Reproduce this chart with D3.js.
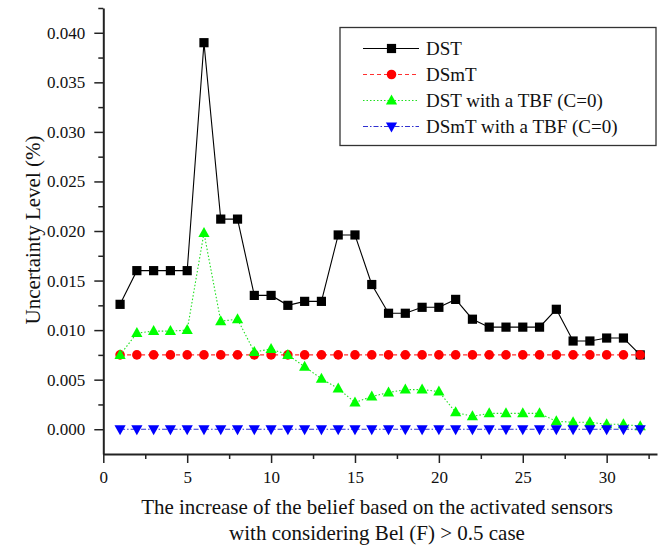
<!DOCTYPE html>
<html>
<head>
<meta charset="utf-8">
<script src="https://cdn.jsdelivr.net/npm/d3@7"></script>
<style>
  html, body { margin: 0; padding: 0; background: #fff; }
  svg { display: block; }
  svg text { font-family: "Liberation Serif", "Times New Roman", "Liberation Sans", serif; }
</style>
</head>
<body>
<svg id="chart" width="665" height="546"></svg>
<script>
// Activated-sensor steps on the x axis
const steps = d3.range(1, 33);

// Uncertainty level of each combination rule, one value per step
const dst = [0.0126, 0.0160, 0.0160, 0.0160, 0.0160, 0.0390, 0.0212, 0.0212,
             0.0135, 0.0135, 0.0125, 0.0129, 0.0129, 0.0196, 0.0196, 0.0146,
             0.0117, 0.0117, 0.0123, 0.0123, 0.0131, 0.0111, 0.0103, 0.0103,
             0.0103, 0.0103, 0.0121, 0.0089, 0.0089, 0.0092, 0.0092, 0.0075];
const dsmt = [0.0075, 0.0075, 0.0075, 0.0075, 0.0075, 0.0075, 0.0075, 0.0075,
              0.0075, 0.0075, 0.0075, 0.0075, 0.0075, 0.0075, 0.0075, 0.0075,
              0.0075, 0.0075, 0.0075, 0.0075, 0.0075, 0.0075, 0.0075, 0.0075,
              0.0075, 0.0075, 0.0075, 0.0075, 0.0075, 0.0075, 0.0075, 0.0075];
const dstTbf = [0.0075, 0.0097, 0.0099, 0.0099, 0.0100, 0.0198, 0.0109, 0.0111,
                0.0078, 0.0081, 0.0075, 0.0063, 0.0051, 0.0041, 0.0027, 0.0033,
                0.0037, 0.0040, 0.0040, 0.0038, 0.0017, 0.0013, 0.0016, 0.0016,
                0.0016, 0.0016, 0.0008, 0.0007, 0.0007, 0.0005, 0.0005, 0.0003];
const dsmtTbf = [0, 0, 0, 0, 0, 0, 0, 0, 0, 0, 0, 0, 0, 0, 0, 0,
                 0, 0, 0, 0, 0, 0, 0, 0, 0, 0, 0, 0, 0, 0, 0, 0];

// Tick labels
const xTicks = [0, 5, 10, 15, 20, 25, 30];
const yTicks = [0.000, 0.005, 0.010, 0.015, 0.020, 0.025, 0.030, 0.035, 0.040];

const seriesNames = ["DST", "DSmT", "DST with a TBF (C=0)", "DSmT with a TBF (C=0)"];

const series = [
  { name: seriesNames[0], values: dst,     color: "#000000", lineColor: "#000000", dash: null,        marker: "square" },
  { name: seriesNames[1], values: dsmt,    color: "#ff0000", lineColor: "#ff3030", dash: "4,3",       marker: "circle" },
  { name: seriesNames[2], values: dstTbf,  color: "#00ff00", lineColor: "#20e020", dash: "1.5,2",     marker: "up" },
  { name: seriesNames[3], values: dsmtTbf, color: "#0000ff", lineColor: "#3030d0", dash: "5,2,1.5,2", marker: "down" }
];

const svg = d3.select("#chart");

const x = d3.scaleLinear().domain([0, 33]).range([103.3, 657]);
const y = d3.scaleLinear().domain([-0.0025, 0.0425]).range([454, 8]);

// Marker shapes
function markerPath(type) {
  switch (type) {
    case "square": return "M-4.6,-4.6H4.6V4.6H-4.6Z";
    case "circle": return d3.symbol(d3.symbolCircle, 72)();
    case "up":     return "M0,-6L5.6,4L-5.6,4Z";
    case "down":   return "M0,6L5.6,-4L-5.6,-4Z";
  }
}

// Minor ticks
const xMinor = d3.range(2.5, 33, 5);
const yMinor = d3.range(0.0025, 0.0426, 0.005);

const gx = svg.append("g").attr("transform", "translate(0,454)");
gx.call(d3.axisBottom(x).tickValues(xMinor).tickSize(5).tickSizeOuter(0).tickFormat(""));
gx.call(g => g.select(".domain").remove());
const gx2 = svg.append("g").attr("transform", "translate(0,454)");
gx2.call(d3.axisBottom(x).tickValues(xTicks).tickSize(9).tickSizeOuter(0).tickPadding(8));

const gy = svg.append("g").attr("transform", "translate(103.3,0)");
gy.call(d3.axisLeft(y).tickValues(yMinor).tickSize(5).tickSizeOuter(0).tickFormat(""));
gy.call(g => g.select(".domain").remove());
const gy2 = svg.append("g").attr("transform", "translate(103.3,0)");
gy2.call(d3.axisLeft(y).tickValues(yTicks).tickSize(9).tickSizeOuter(0).tickPadding(9)
  .tickFormat(d3.format(".3f")));

svg.selectAll("g").attr("font-family", null);
svg.selectAll(".domain").attr("stroke", "#222").attr("stroke-width", 2);
svg.selectAll(".tick line").attr("stroke", "#222").attr("stroke-width", 1.5);
svg.selectAll(".tick text")
  .attr("font-size", 17)
  .attr("fill", "#111");

// Series lines and markers
const line = d3.line().x((d, i) => x(steps[i])).y(d => y(d));

series.forEach(s => {
  svg.append("path")
    .datum(s.values)
    .attr("fill", "none")
    .attr("stroke", s.lineColor)
    .attr("stroke-width", 1.1)
    .attr("stroke-dasharray", s.dash)
    .attr("d", line);
  svg.append("g").selectAll("path")
    .data(s.values)
    .join("path")
    .attr("transform", (d, i) => `translate(${x(steps[i])},${y(d)})`)
    .attr("d", markerPath(s.marker))
    .attr("fill", s.color);
});

// Axis titles
svg.append("text")
  .attr("transform", "translate(40,230) rotate(-90)")
  .attr("text-anchor", "middle")
  .attr("font-size", 21)
  .attr("fill", "#111")
  .text("Uncertainty Level (%)");

svg.append("text")
  .attr("x", 377).attr("y", 514)
  .attr("text-anchor", "middle")
  .attr("font-size", 21)
  .attr("fill", "#111")
  .text("The increase of the belief based on the activated sensors");
svg.append("text")
  .attr("x", 377).attr("y", 540)
  .attr("text-anchor", "middle")
  .attr("font-size", 21)
  .attr("fill", "#111")
  .text("with considering Bel (F) > 0.5 case");

// Legend
const legend = svg.append("g");
legend.append("rect")
  .attr("x", 340).attr("y", 27.5)
  .attr("width", 316).attr("height", 118)
  .attr("fill", "#fff")
  .attr("stroke", "#333")
  .attr("stroke-width", 1.3);

series.forEach((s, i) => {
  const ly = 48.5 + i * 26;
  legend.append("line")
    .attr("x1", 363).attr("x2", 419)
    .attr("y1", ly).attr("y2", ly)
    .attr("stroke", s.lineColor)
    .attr("stroke-width", 1.1)
    .attr("stroke-dasharray", s.dash);
  legend.append("path")
    .attr("transform", `translate(391.5,${ly})`)
    .attr("d", markerPath(s.marker))
    .attr("fill", s.color);
  legend.append("text")
    .attr("x", 426).attr("y", ly + 6.5)
    .attr("font-size", 19)
    .attr("fill", "#111")
    .text(s.name);
});
</script>
</body>
</html>
